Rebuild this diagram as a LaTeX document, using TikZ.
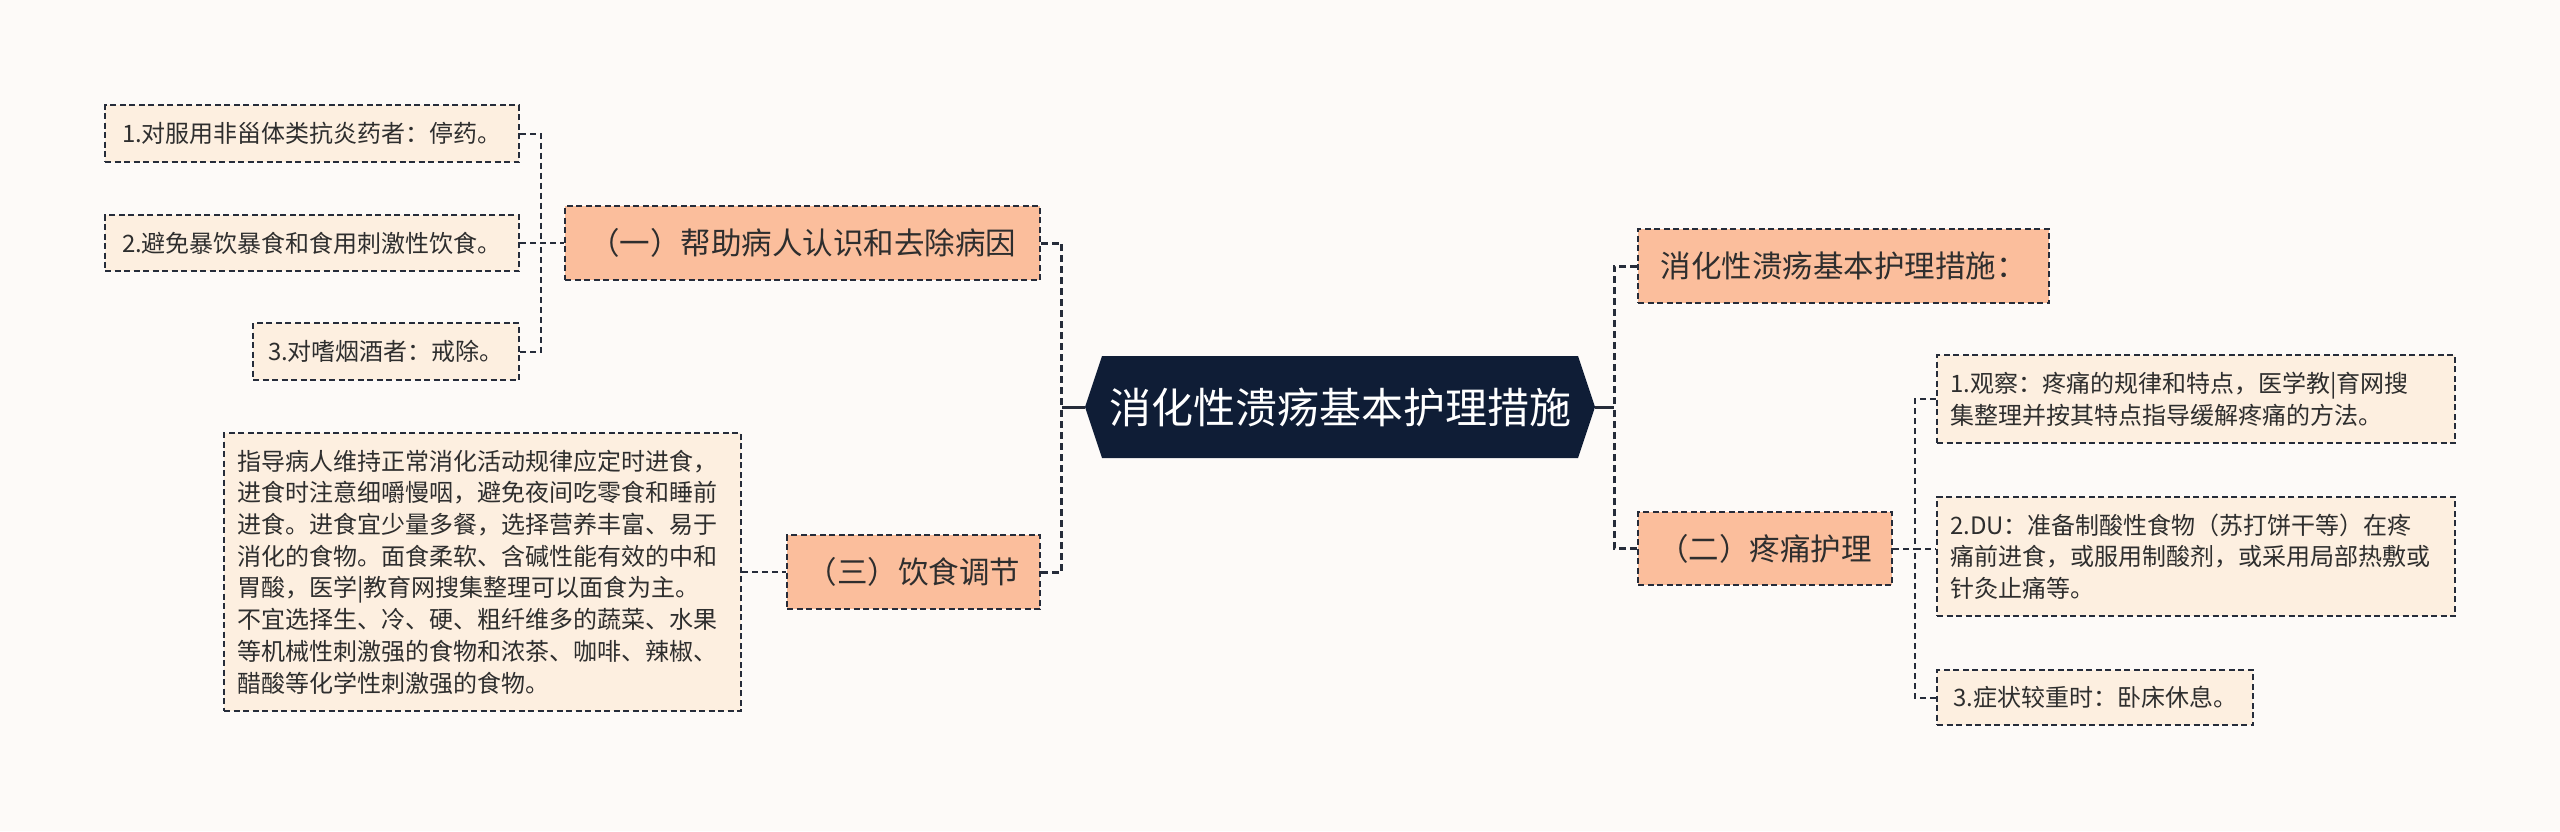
\documentclass[tikz,border=0pt]{standalone}
\usepackage{fontspec}
\newfontfamily\cjk{Noto Sans CJK SC}
\definecolor{navy}{HTML}{0F1D36}
\definecolor{peach}{HTML}{FBBE9C}
\definecolor{leaf}{HTML}{FDEFE0}
\definecolor{bgc}{HTML}{FDFAF8}
\definecolor{edge}{HTML}{262C3A}
\definecolor{ink}{HTML}{2E2E2E}
\tikzset{
  x=1pt,y=-1pt,
  boxline/.style={draw=edge,line width=2pt,dash pattern=on 6pt off 3.5pt},
  topic/.style={boxline,fill=peach,text=ink,inner sep=0pt,font=\cjk\fontsize{30.5}{36}\selectfont},
  leafbox/.style={boxline,fill=leaf,text=ink,inner sep=0pt,font=\cjk\fontsize{24}{31.7}\selectfont},
  leafpar/.style={leafbox,inner xsep=13pt,align=left},
  mainlink/.style={draw=edge,line width=3pt,dash pattern=on 7pt off 4pt},
  sublink/.style={draw=edge,line width=2pt,dash pattern=on 6pt off 4pt},
  solidlink/.style={draw=edge,line width=3pt},
}
\begin{document}
\begin{tikzpicture}
\fill[bgc] (0,0) rectangle (2560,831);
\useasboundingbox (0,0) rectangle (2560,831);

% central
\node[fill=bgc,minimum width=510pt,minimum height=102pt,inner sep=0pt,text=white,
  font=\cjk\fontsize{42}{48}\selectfont,
  path picture={\fill[navy] ([xshift=17pt]path picture bounding box.north west)
     -- ([xshift=-17pt]path picture bounding box.north east)
     -- (path picture bounding box.east)
     -- ([xshift=-17pt]path picture bounding box.south east)
     -- ([xshift=17pt]path picture bounding box.south west)
     -- (path picture bounding box.west) -- cycle;}]
  (C) at (1340,407) {消化性溃疡基本护理措施};

% left topics
\node[topic,minimum width=475pt,minimum height=74pt] (A1) at (802.5,243) {（一）帮助病人认识和去除病因};
\node[topic,minimum width=253pt,minimum height=74pt] (A3) at (913.5,572) {（三）饮食调节};

% left leaves
\node[leafbox,minimum width=414pt,minimum height=57pt] (L1) at (312,133.5) {1.对服用非甾体类抗炎药者：停药。};
\node[leafbox,minimum width=414pt,minimum height=56pt] (L2) at (312,243) {2.避免暴饮暴食和食用刺激性饮食。};
\node[leafbox,minimum width=266pt,minimum height=57pt] (L3) at (386,351.5) {3.对嗜烟酒者：戒除。};
\node[leafpar,text width=491pt,minimum height=278pt] (B) at (482.5,572) {指导病人维持正常消化活动规律应定时进食，\\进食时注意细嚼慢咽，避免夜间吃零食和睡前\\进食。进食宜少量多餐，选择营养丰富、易于\\消化的食物。面食柔软、含碱性能有效的中和\\胃酸，医学|教育网搜集整理可以面食为主。\\不宜选择生、冷、硬、粗纤维多的蔬菜、水果\\等机械性刺激强的食物和浓茶、咖啡、辣椒、\\醋酸等化学性刺激强的食物。};

% right topics
\node[topic,minimum width=411pt,minimum height=74pt] (R0) at (1843.5,266) {消化性溃疡基本护理措施：};
\node[topic,minimum width=254pt,minimum height=73pt] (R2) at (1765,548.5) {（二）疼痛护理};

% right leaves
\node[leafpar,text width=492pt,minimum height=88pt] (D1) at (2196,399) {1.观察：疼痛的规律和特点，医学教|育网搜\\集整理并按其特点指导缓解疼痛的方法。};
\node[leafpar,text width=492pt,minimum height=119pt] (D2) at (2196,556.5) {2.DU：准备制酸性食物（苏打饼干等）在疼\\痛前进食，或服用制酸剂，或采用局部热敷或\\针灸止痛等。};
\node[leafbox,minimum width=316pt,minimum height=55pt] (D3) at (2095,697.5) {3.症状较重时：卧床休息。};

% connectors from centre
\draw[solidlink] (C.west) -- ++(-23,0) coordinate (cl);
\draw[solidlink] (C.east) -- ++(19,0) coordinate (cr);
\draw[mainlink] (A1.east) -| (cl);
\draw[mainlink] (A3.east) -| (cl);
\draw[mainlink] (R0.west) -| (cr);
\draw[mainlink] (R2.west) -| (cr);

% left children
\coordinate (al) at ([xshift=-23pt]A1.west);
\draw[sublink] (L1.east) -| (al);
\draw[sublink] (L3.east) -| (al);
\draw[sublink] (L2.east) -- (A1.west);
\draw[sublink] (B.east) -- (A3.west);

% right children
\coordinate (rs) at ([xshift=22pt]R2.east);
\draw[sublink] (R2.east) -- (rs);
\draw[sublink] (D1.west) -| (rs);
\draw[sublink] (D3.west) -| (rs);
\draw[sublink] (rs) -- (D2.west |- rs);
\end{tikzpicture}
\end{document}
